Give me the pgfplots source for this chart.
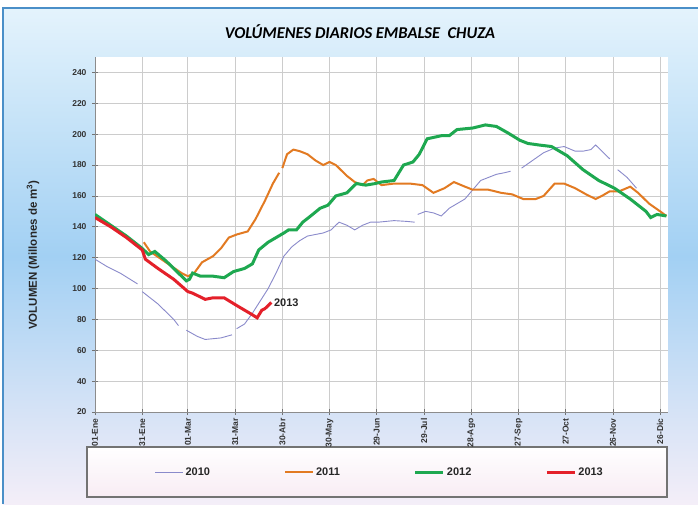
\documentclass[border=0pt]{standalone}
\usepackage{pgfplots}
\pgfplotsset{compat=1.18}
\usepackage{fontspec}
\setmainfont{Liberation Sans}
\newfontfamily\titlefont{Carlito}
\definecolor{c2010}{HTML}{8A8ACB}
\definecolor{c2011}{HTML}{E27A22}
\definecolor{c2012}{HTML}{1EA850}
\definecolor{c2013}{HTML}{E4202A}
\definecolor{bgtop}{HTML}{E4F3FC}
\definecolor{bgmid}{HTML}{A2D0F3}
\definecolor{bgbot}{HTML}{F4EEF8}
\definecolor{framec}{HTML}{4A8FC8}
\definecolor{legbot}{HTML}{F8ECF4}

\begin{document}
\begin{tikzpicture}
\useasboundingbox (0pt,0pt) rectangle (698pt,-504pt);
\fill[white] (0pt,0pt) rectangle (698pt,-504pt);
\shade[top color=bgtop, bottom color=bgbot, middle color=bgmid] (3pt,-8pt) rectangle (698pt,-504pt);
\draw[framec, line width=2pt] (3pt,-504pt) -- (3pt,-8pt) -- (698pt,-8pt);
\node[font=\titlefont\bfseries\itshape\fontsize{16.5}{18}\selectfont, text=black] at (360pt,-32pt) {VOLÚMENES DIARIOS EMBALSE\ \ CHUZA};
\shadedraw[top color=white, bottom color=legbot, draw=black!55, line width=1.2pt] (87pt,-447pt) rectangle (667pt,-497pt);
\node[rotate=90, font=\bfseries\fontsize{11.5}{13}\selectfont, text=black!85] at (33pt,-255pt) {VOLUMEN (Millones de m\textsuperscript{3})};

\begin{axis}[
  scale only axis, width=573pt, height=355pt,
  at={(95pt,-412pt)}, anchor=south west,
  xmin=0, xmax=364, ymin=20, ymax=250,
  axis lines=left, axis line style={-, draw=black!45, line width=0.8pt},
  axis background/.style={fill=white},
  xtick={0,30,59,89,119,149,179,209,239,269,299,329,359},
  xticklabels={01-Ene,31-Ene,01-Mar,31-Mar,30-Abr,30-May,29-Jun,29-Jul,28-Ago,27-Sep,27-Oct,26-Nov,26-Dic},
  ytick={20,40,...,240},
  grid=major, grid style={black!20, line width=0.8pt},
  tick align=center, major tick length=6pt,
  tick style={black!55, line width=0.8pt},
  ticklabel style={font=\bfseries\fontsize{8.5}{10}\selectfont, text=black!80},
  xticklabel style={rotate=90, anchor=east},
  yticklabel style={xshift=-2pt},
  /pgf/number format/assume math mode=true,
  unbounded coords=jump,
  legend columns=4,
  legend style={at={(0.497,-0.169)}, anchor=center, draw=none, fill=none,
    font=\bfseries\fontsize{11}{13}\selectfont, text=black!85,
    /tikz/every even column/.append style={column sep=72pt}},
  legend image code/.code={\draw[#1] (0pt,0pt) -- (28pt,0pt);},
]
% 2010
\addplot[c2010, line width=0.9pt] coordinates {
(0,119) (8,114) (16,110) (27,103) (28,nan)
(30,98) (40,90) (50,80) (53,76) (55,nan)
(58,73) (65,69) (70,67) (80,68) (87,70) (88,nan)
(90,74) (95,77) (100,84) (105,92) (110,100) (115,110) (120,121) (125,127)
(130,131) (135,134) (140,135) (145,136) (150,138) (155,143) (160,141) (165,138)
(170,141) (175,143) (180,143) (190,144) (198,143.5) (203,143) (204,nan)
(205,148) (210,150) (215,149) (220,147) (225,152) (230,155) (235,158) (240,164)
(245,170) (250,172) (255,174) (260,175) (264,176) (266,nan)
(271,178) (278,183) (285,188) (292,191) (298,192) (305,189) (310,189) (315,190)
(318,193) (322,189) (327,184) (329,nan)
(332,177) (338,172) (344,165)
};
% 2011
\addplot[c2011, line width=2pt] coordinates {
(31,130) (35,124) (45,117) (55,110) (59,108) (63,110) (68,117) (75,121)
(80,126) (85,133) (90,135) (97,137) (102,145) (108,157) (113,168) (117,175) (118,nan)
(119,178) (122,187) (126,190) (130,189) (135,187) (140,183) (145,180) (149,182)
(153,180) (160,173) (165,169) (170,167) (173,170) (177,171) (182,167) (190,168)
(200,168) (208,167) (215,162) (222,165) (228,169) (235,166) (240,164) (250,164)
(258,162) (265,161) (272,158) (280,158) (285,160) (292,168) (298,168) (305,165)
(312,161) (318,158) (322,160) (327,163) (333,163) (340,166) (345,162) (352,155)
(359,150) (363,147)
};
% 2012
\addplot[c2012, line width=3pt] coordinates {
(0,148) (10,141) (20,134) (30,126) (34,122) (38,124) (45,118) (52,111)
(58,105) (60,106) (62,110) (67,108) (75,108) (82,107) (88,111) (95,113)
(100,116) (104,125) (110,130) (115,133) (120,136) (123,138) (128,138) (132,143)
(137,147) (143,152) (148,154) (153,160) (160,162) (166,168) (172,167) (178,168)
(182,169) (190,170) (196,180) (202,182) (206,187) (211,197) (220,199) (225,199)
(230,203) (240,204) (248,206) (255,205) (262,201) (270,196) (275,194) (282,193)
(290,192) (300,186) (310,177) (320,170) (330,165) (340,158) (350,150) (353,146)
(357,148) (363,147)
};
% 2013
\addplot[c2013, line width=3pt] coordinates {
(0,146) (10,140) (20,133) (30,125) (32,119) (40,113) (50,106) (59,98)
(62,97) (70,93) (75,94) (82,94) (90,89) (100,83) (103,81) (106,86)
(108,87) (112,91)
};
\legend{2010,2011,2012,2013}
\node[anchor=west, font=\bfseries\fontsize{11}{13}\selectfont, text=black!85, inner sep=1pt] at (axis cs:113,91) {2013};
\end{axis}
\end{tikzpicture}
\end{document}
